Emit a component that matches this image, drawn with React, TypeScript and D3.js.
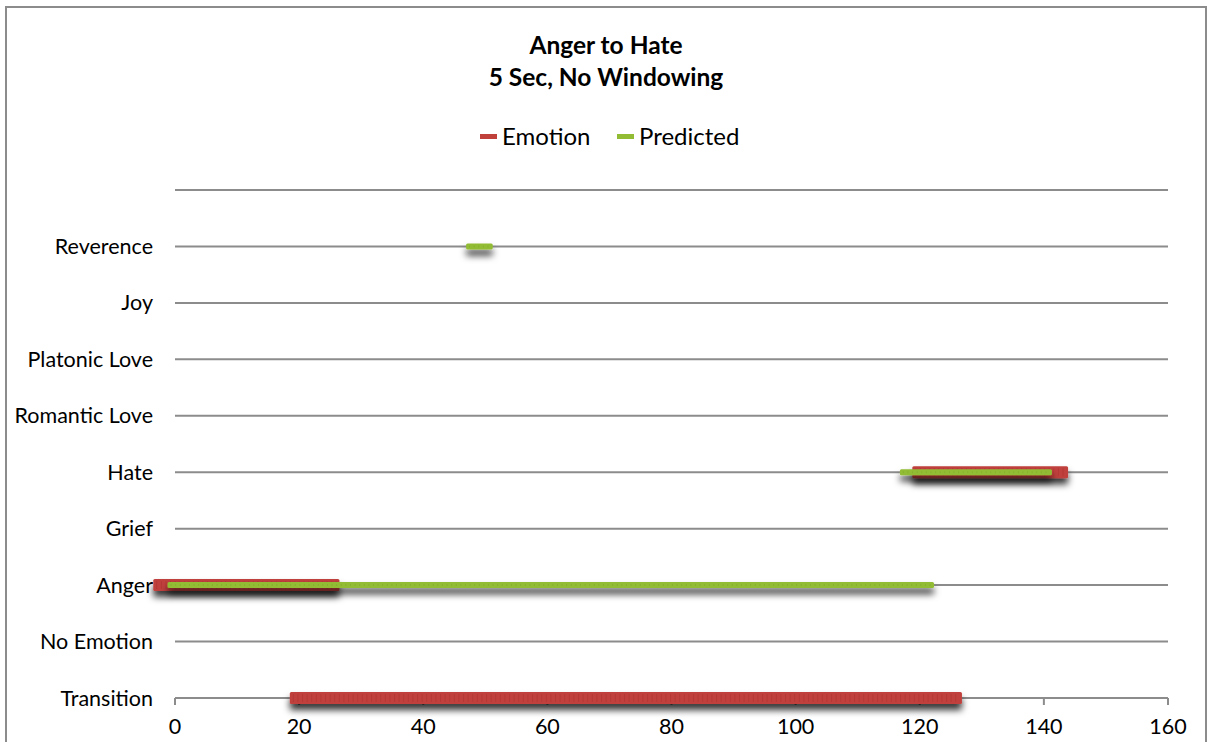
import React, { useEffect, useRef } from 'react';
import * as d3 from 'd3';

// rows of the chart, bottom to top
const categories = [
  'Transition',
  'No Emotion',
  'Anger',
  'Grief',
  'Hate',
  'Romantic Love',
  'Platonic Love',
  'Joy',
  'Reverence',
];

const xTicks = [0, 20, 40, 60, 80, 100, 120, 140, 160];

// segments: [category, start, end]
const emotionSegments: [string, number, number][] = [
  ['Anger', -3.5, 26.5],
  ['Transition', 18.5, 126.8],
  ['Hate', 118.8, 143.9],
];

const predictedSegments: [string, number, number][] = [
  ['Reverence', 46.9, 51.2],
  ['Anger', -1.2, 122.3],
  ['Hate', 116.8, 141.3],
];

const series = [
  { name: 'Emotion', color: '#c0413c', dark: '#a8322f', width: 12, data: emotionSegments },
  { name: 'Predicted', color: '#93bc35', dark: '#7ea42a', width: 6, data: predictedSegments },
];

const FONT = 'Lato, "Open Sans", sans-serif';

export default function App() {
  const svgRef = useRef<SVGSVGElement>(null);

  useEffect(() => {
    if (!svgRef.current) return;
    const svg = d3.select(svgRef.current);
    svg.selectAll('*').remove();

    const width = 1207;
    const height = 742;
    const margin = { top: 190, right: 39, bottom: 44, left: 175 };

    const x = d3.scaleLinear()
      .domain([0, 160])
      .range([margin.left, width - margin.right]);

    const y = d3.scaleLinear()
      .domain([0, 9])
      .range([height - margin.bottom, margin.top]);

    const defs = svg.append('defs');
    const shadow = defs.append('filter')
      .attr('id', 'shadow')
      .attr('filterUnits', 'userSpaceOnUse')
      .attr('x', 0).attr('y', 0)
      .attr('width', width).attr('height', height);
    shadow.append('feDropShadow')
      .attr('dx', 0).attr('dy', 6)
      .attr('stdDeviation', 3.5)
      .attr('flood-color', '#000')
      .attr('flood-opacity', 0.8);

    // chart frame
    svg.append('rect')
      .attr('x', 6).attr('y', 7)
      .attr('width', 1200).attr('height', 740)
      .attr('fill', '#fff')
      .attr('stroke', '#8c8c8c')
      .attr('stroke-width', 2);

    // title
    const title = svg.append('text')
      .attr('text-anchor', 'middle')
      .attr('font-family', FONT)
      .attr('font-weight', 'bold')
      .attr('font-size', 24.5)
      .attr('fill', '#000');
    title.append('tspan').attr('x', 606).attr('y', 54).text('Anger to Hate');
    title.append('tspan').attr('x', 606).attr('y', 86).text('5 Sec, No Windowing');

    // legend
    const legendItems = [
      { s: series[0], x: 480 },
      { s: series[1], x: 617 },
    ];
    legendItems.forEach(({ s, x: lx }) => {
      svg.append('rect')
        .attr('x', lx).attr('y', 134)
        .attr('width', 17).attr('height', 5)
        .attr('fill', s.color);
      svg.append('text')
        .attr('x', lx + 22).attr('y', 145)
        .attr('font-family', FONT)
        .attr('font-size', 24)
        .attr('fill', '#000')
        .text(s.name);
    });

    // gridlines (including top empty row)
    svg.append('g')
      .selectAll('line')
      .data(d3.range(0, 10))
      .join('line')
      .attr('x1', x(0)).attr('x2', x(160))
      .attr('y1', d => y(d)).attr('y2', d => y(d))
      .attr('stroke', '#8c8c8c')
      .attr('stroke-width', 2);

    // x-axis ticks
    svg.append('g')
      .selectAll('line')
      .data(xTicks)
      .join('line')
      .attr('x1', d => x(d)).attr('x2', d => x(d))
      .attr('y1', y(0)).attr('y2', y(0) + 7)
      .attr('stroke', '#8c8c8c')
      .attr('stroke-width', 2);

    svg.append('g')
      .selectAll('text')
      .data(xTicks)
      .join('text')
      .attr('x', d => x(d))
      .attr('y', 734)
      .attr('text-anchor', 'middle')
      .attr('font-family', FONT)
      .attr('font-size', 21.5)
      .attr('fill', '#000')
      .text(d => d);

    // y category labels
    svg.append('g')
      .selectAll('text')
      .data(categories)
      .join('text')
      .attr('x', 153)
      .attr('y', (_, i) => y(i) + 7.5)
      .attr('text-anchor', 'end')
      .attr('font-family', FONT)
      .attr('font-size', 21.5)
      .attr('fill', '#000')
      .text(d => d);

    // series segments
    series.forEach(s => {
      const g = svg.append('g');
      g.selectAll('rect.main')
        .data(s.data)
        .join('rect')
        .attr('class', 'main')
        .attr('x', d => x(d[1]))
        .attr('width', d => x(d[2]) - x(d[1]))
        .attr('y', d => y(categories.indexOf(d[0])) - s.width / 2)
        .attr('height', s.width)
        .attr('rx', 1.5)
        .attr('fill', s.color)
        .attr('filter', 'url(#shadow)');
      // marker texture
      g.selectAll('line.tex')
        .data(s.data)
        .join('line')
        .attr('class', 'tex')
        .attr('x1', d => x(d[1]) + 3).attr('x2', d => x(d[2]) - 3)
        .attr('y1', d => y(categories.indexOf(d[0]))).attr('y2', d => y(categories.indexOf(d[0])))
        .attr('stroke', s.dark)
        .attr('stroke-width', s.width - 4)
        .attr('stroke-dasharray', '1 3.6')
        .attr('opacity', 0.5);
    });
  }, []);

  return (
    <div style={{ position: 'fixed', left: 0, top: 0, width: 1207, height: 742, background: '#fff' }}>
      <svg ref={svgRef} width={1207} height={742} viewBox="0 0 1207 742" />
    </div>
  );
}
